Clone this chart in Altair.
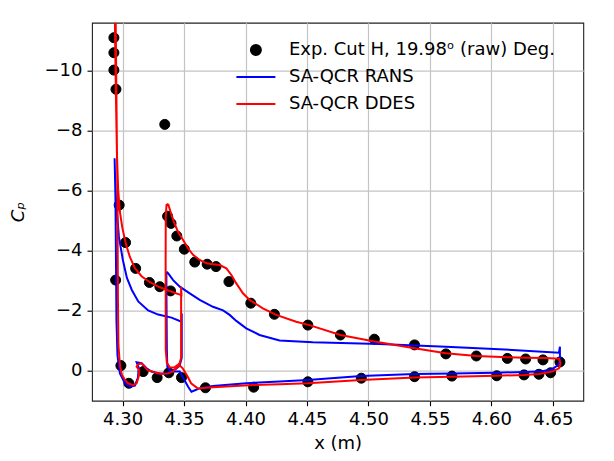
import altair as alt
import pandas as pd

EXP = "Exp. Cut H, 19.98ᵒ (raw) Deg."
RANS = "SA-QCR RANS"
DDES = "SA-QCR DDES"

# Experimental data
exp_x = [4.2929, 4.2929, 4.2929, 4.2946, 4.3343, 4.2972, 4.3024, 4.2943, 4.3106, 4.3218,
         4.3303, 4.3390, 4.3366, 4.3394, 4.3441, 4.3502, 4.3587, 4.3688, 4.3760, 4.3865,
         4.4043, 4.4235, 4.4507, 4.4772, 4.5048, 4.5375, 4.5630, 4.5878, 4.6130, 4.6279,
         4.6420, 4.6558,
         4.2986, 4.3051, 4.3167, 4.3281, 4.3376, 4.3479, 4.3674, 4.4066, 4.4507, 4.4942,
         4.5375, 4.5679, 4.6044, 4.6266, 4.6387, 4.6482]
exp_cp = [-11.10, -10.60, -10.02, -9.38, -8.21, -5.52, -4.27, -3.02, -3.41, -2.94,
          -2.80, -2.66, -5.15, -4.91, -4.49, -4.05, -3.62, -3.55, -3.47, -2.97,
          -2.25, -1.88, -1.52, -1.19, -1.05, -0.86, -0.56, -0.49, -0.41, -0.39,
          -0.36, -0.29,
          -0.17, 0.42, 0.03, 0.23, 0.07, 0.23, 0.57, 0.55, 0.37, 0.25,
          0.20, 0.18, 0.17, 0.14, 0.12, 0.07]

# SA-QCR RANS, slat
rans_slat_x = [4.3481, 4.3481, 4.3479, 4.3398, 4.3289, 4.3208, 4.3127, 4.3075, 4.3035, 4.3002,
               4.2970, 4.2948, 4.2939, 4.2935, 4.2942, 4.2946, 4.2950, 4.2958, 4.2978, 4.3019,
               4.3059, 4.3100, 4.3124, 4.3132, 4.3114, 4.3154, 4.3195, 4.3235, 4.3289, 4.3357,
               4.3398, 4.3433, 4.3463, 4.3481]
rans_slat_cp = [-0.42, -1.91, -1.63, -1.77, -1.87, -2.01, -2.31, -2.69, -3.09, -3.69,
                -4.46, -5.59, -6.36, -7.08, -5.69, -3.69, -1.69, -0.52, 0.09, 0.42,
                0.53, 0.50, 0.24, -0.09, -0.28, -0.25, -0.08, 0.03, 0.09, 0.09,
                0.01, -0.06, -0.16, -0.42]

# SA-QCR RANS, main element
rans_main_x = [4.3357, 4.3370, 4.3411, 4.3465, 4.3546, 4.3627, 4.3735, 4.3817, 4.3871, 4.3925,
               4.4006, 4.4114, 4.4277, 4.4547, 4.5088, 4.5630, 4.6171, 4.6550, 4.6558, 4.6558,
               4.6544, 4.6495, 4.6414, 4.6279, 4.6036, 4.5683, 4.5375, 4.4942, 4.4506, 4.4277,
               4.4006, 4.3735, 4.3627, 4.3584, 4.3560, 4.3532, 4.3503, 4.3465, 4.3425, 4.3384,
               4.3364, 4.3360, 4.3357, 4.3356]
rans_main_cp = [-3.30, -3.25, -3.02, -2.80, -2.58, -2.36, -2.13, -2.01, -1.86, -1.66,
                -1.41, -1.19, -1.01, -0.95, -0.89, -0.80, -0.69, -0.60, -0.80, -0.36,
                -0.19, -0.05, 0.02, 0.04, 0.07, 0.09, 0.11, 0.18, 0.31, 0.36,
                0.42, 0.51, 0.59, 0.66, 0.70, 0.53, 0.31, 0.03, 0.03, -0.02,
                -0.13, -0.69, -2.36, -3.30]

# SA-QCR DDES, slat
ddes_slat_x = [4.3476, 4.3476, 4.3479, 4.3398, 4.3303, 4.3222, 4.3154, 4.3100, 4.3059, 4.3027,
               4.2998, 4.2978, 4.2964, 4.2954, 4.2946, 4.2939, 4.2936, 4.2942, 4.2950, 4.2958,
               4.2962, 4.2966, 4.2978, 4.2994, 4.3019, 4.3045, 4.3086, 4.3114, 4.3132, 4.3136,
               4.3114, 4.3127, 4.3154, 4.3181, 4.3205, 4.3262, 4.3313, 4.3368, 4.3408, 4.3435,
               4.3457, 4.3476]
ddes_slat_cp = [-0.42, -2.80, -2.52, -2.63, -2.78, -2.95, -3.15, -3.42, -3.79, -4.22,
                -4.76, -5.29, -6.02, -7.19, -9.02, -11.02, -12.36, -12.36, -9.02, -5.69,
                -2.36, -0.86, -0.19, 0.14, 0.31, 0.42, 0.48, 0.42, 0.18, -0.02,
                -0.13, -0.21, -0.25, -0.13, -0.01, 0.05, 0.11, 0.09, 0.03, -0.07,
                -0.16, -0.42]

# SA-QCR DDES, main element
ddes_main_x = [4.3370, 4.3390, 4.3416, 4.3451, 4.3492, 4.3532, 4.3573, 4.3627, 4.3682, 4.3735,
               4.3790, 4.3844, 4.3885, 4.3925, 4.3979, 4.4033, 4.4141, 4.4250, 4.4412, 4.4520,
               4.4772, 4.5048, 4.5375, 4.5630, 4.5878, 4.6130, 4.6279, 4.6442, 4.6550, 4.6563,
               4.6550, 4.6495, 4.6388, 4.6265, 4.6036, 4.5683, 4.5375, 4.4942, 4.4506, 4.4277,
               4.4060, 4.3735, 4.3611, 4.3557, 4.3530, 4.3489, 4.3455, 4.3422, 4.3384, 4.3360,
               4.3351, 4.3350, 4.3351, 4.3357, 4.3370]
ddes_main_cp = [-5.56, -5.30, -4.97, -4.63, -4.36, -4.08, -3.86, -3.69, -3.58, -3.55,
                -3.52, -3.41, -3.19, -2.91, -2.58, -2.36, -2.08, -1.86, -1.63, -1.52,
                -1.19, -0.97, -0.75, -0.58, -0.49, -0.45, -0.43, -0.42, -0.40, -0.25,
                -0.08, 0.03, 0.11, 0.14, 0.17, 0.20, 0.23, 0.31, 0.42, 0.45,
                0.48, 0.55, 0.59, 0.42, 0.20, -0.08, -0.21, -0.11, -0.11, -0.26,
                -0.69, -3.69, -5.13, -5.52, -5.56]

x_ticks = [4.30, 4.35, 4.40, 4.45, 4.50, 4.55, 4.60, 4.65]
y_ticks = [-10, -8, -6, -4, -2, 0]

rows = []
for name, part, xs_, cps_ in [
    (RANS, "rans_slat", rans_slat_x, rans_slat_cp),
    (RANS, "rans_main", rans_main_x, rans_main_cp),
    (DDES, "ddes_slat", ddes_slat_x, ddes_slat_cp),
    (DDES, "ddes_main", ddes_main_x, ddes_main_cp),
]:
    for i, (a, b) in enumerate(zip(xs_, cps_)):
        rows.append({"series": name, "part": part, "idx": i, "x": a, "cp": b})
lines_df = pd.DataFrame(rows)
pts_df = pd.DataFrame({"series": EXP, "x": exp_x, "cp": exp_cp})

dom = [EXP, RANS, DDES]
LINE = "M-3.9,0L3.9,0"
FONT = "DejaVu Sans"

xscale = alt.Scale(domain=[4.2751, 4.6748], nice=False, zero=False)
yscale = alt.Scale(domain=[-11.6, 1.0], reverse=True, nice=False, zero=False)
stroke_scale = alt.Scale(domain=dom, range=["black", "#0000ff", "#ff0000"])
fill_scale = alt.Scale(domain=dom, range=["black", "transparent", "transparent"])
shape_scale = alt.Scale(domain=dom, range=["circle", LINE, LINE])

xaxis = alt.Axis(values=x_ticks, format=".2f", title="x (m)", titleY=47.7,
                 titleBaseline="alphabetic", labelPadding=5)
yaxis = alt.Axis(values=y_ticks, format="d", title="Cₚ", titleX=-74, titleY=189,
                 titleAngle=-90, titleAlign="center", titleBaseline="middle",
                 titleFontStyle="italic", labelPadding=5)

leg = alt.Legend(title=None, orient="none", legendX=154.9, legendY=18.4, padding=0,
                 labelFontSize=18, labelFont=FONT, labelColor="black", labelLimit=400,
                 labelOffset=24, rowPadding=9, symbolSize=100, symbolStrokeWidth=2,
                 symbolOpacity=1)

points = alt.Chart(pts_df).mark_point(filled=True, size=100, opacity=1, strokeWidth=1).encode(
    x=alt.X("x:Q", scale=xscale, axis=xaxis),
    y=alt.Y("cp:Q", scale=yscale, axis=yaxis),
    fill=alt.Fill("series:N", scale=fill_scale, legend=leg),
    stroke=alt.Stroke("series:N", scale=stroke_scale, legend=leg),
    shape=alt.Shape("series:N", scale=shape_scale, legend=leg),
)

lines = alt.Chart(lines_df).mark_line(strokeWidth=2, clip=True).encode(
    x=alt.X("x:Q", scale=xscale),
    y=alt.Y("cp:Q", scale=yscale),
    stroke=alt.Stroke("series:N", scale=stroke_scale, legend=None),
    detail="part:N",
    order="idx:Q",
)

chart = alt.layer(points, lines).properties(
    width=491.3, height=378,
    autosize=alt.AutoSizeParams(type="none"),
    padding={"left": 84, "top": 14.7, "right": 16, "bottom": 52},
).configure_view(stroke="#222222", strokeWidth=1.1).configure_axis(
    labelFont=FONT, labelFontSize=18, labelColor="black",
    titleFont=FONT, titleFontSize=18, titleFontWeight="normal", titleColor="black",
    tickColor="black", tickSize=5, tickWidth=1.1, domain=False,
    grid=True, gridColor="#c4c4c4", gridWidth=1.2,
)

chart.save("out.html", embed_options={"renderer": "svg", "actions": False})
